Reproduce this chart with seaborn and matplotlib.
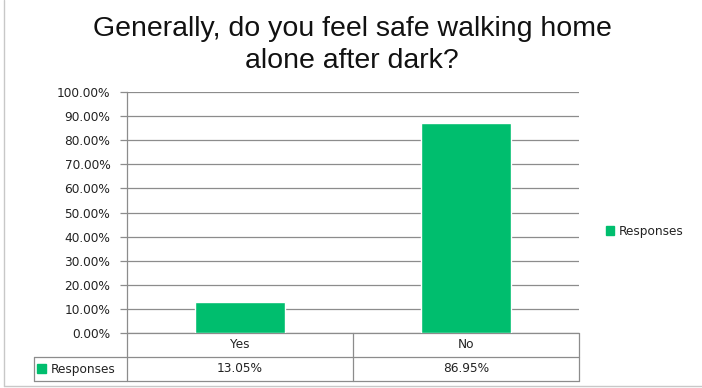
import matplotlib
matplotlib.use("Agg")
import matplotlib.pyplot as plt
import matplotlib.transforms as mtransforms
from matplotlib.patches import Patch, Rectangle
import seaborn as sns
import pandas as pd

categories = ["Yes", "No"]
values = [13.05, 86.95]
series_name = "Responses"
title = "Generally, do you feel safe walking home\nalone after dark?"
yticks = [0, 10, 20, 30, 40, 50, 60, 70, 80, 90, 100]

GREEN = "#00BE6E"
GRID = "#8c8c8c"
TXT = "#222222"
TICKFONT = "DejaVu Sans"
FS = 8.7

sns.set_theme(style="white")
plt.rcParams["font.family"] = ["DejaVu Sans"]

W, H = 702, 388
fig = plt.figure(figsize=(W / 100, H / 100), dpi=100)
fig.patch.set_facecolor("white")

# overlay in pixel coordinates
ov = fig.add_axes([0, 0, 1, 1], zorder=0)
ov.set_xlim(0, W)
ov.set_ylim(H, 0)
ov.axis("off")

L, R, T, B = 127, 579, 92, 333
ax = fig.add_axes([L / W, (H - B) / H, (R - L) / W, (B - T) / H], zorder=1)
ax.patch.set_alpha(0)

df = pd.DataFrame({"cat": categories, "val": values})
sns.barplot(data=df, x="cat", y="val", color=GREEN, width=0.4, ax=ax,
            saturation=1, order=categories)
ax.set_ylim(0, 100)
ax.set_xlim(-0.5, len(categories) - 0.5)
ax.set_yticks(yticks)
ax.set_yticklabels([f"{t:.2f}%" for t in yticks], fontsize=FS, color=TXT,
                   family=TICKFONT)
ax.set_xticks([])
ax.set_xlabel("")
ax.set_ylabel("")
ax.yaxis.grid(True, color=GRID, linewidth=0.9)
ax.set_axisbelow(True)
for s in ["top", "right", "bottom"]:
    ax.spines[s].set_visible(False)
ax.spines["left"].set_color(GRID)
ax.spines["left"].set_linewidth(0.9)
ax.tick_params(axis="y", which="both", left=True, length=5, width=0.9,
               color=GRID, pad=7)

# title
fig.text(352 / W, 1 - 45 / H, title, ha="center", va="center", fontsize=20.5,
         family="Liberation Sans", color="#111111", linespacing=1.3)

# data table below the axis
lc = dict(color=GRID, linewidth=0.9)
r0, r1, r2 = 333, 357, 381
tl = 34
ov.plot([L, R], [r0, r0], **lc)
ov.plot([tl, R], [r1, r1], **lc)
ov.plot([tl, R], [r2, r2], **lc)
ov.plot([tl, tl], [r1, r2], **lc)
blend = mtransforms.blended_transform_factory(ax.transData, ov.transData)
for i in range(len(categories) + 1):
    ov.plot([L + (R - L) * i / len(categories)] * 2, [r0, r2], **lc)
for i, (c, v) in enumerate(zip(categories, values)):
    fig.text(0, 0, c, transform=blend, ha="center", va="center",
             fontsize=FS, color=TXT, family=TICKFONT).set_position((i, (r0 + r1) / 2))
    fig.text(0, 0, f"{v:.2f}%", transform=blend, ha="center", va="center",
             fontsize=FS, color=TXT, family=TICKFONT).set_position((i, (r1 + r2) / 2))
ov.add_patch(Rectangle((37, 364), 9, 9, color=GREEN))
ov.text(51, (r1 + r2) / 2, series_name, ha="left", va="center", fontsize=FS,
        color=TXT, family=TICKFONT)

# legend
leg = fig.legend(handles=[Patch(color=GREEN, label=series_name)],
                 loc="center left", bbox_to_anchor=(595 / W, 1 - 231 / H),
                 frameon=False, handlelength=0.7, handleheight=0.7,
                 handletextpad=0.4, prop={"family": TICKFONT, "size": FS})
for t in leg.get_texts():
    t.set_color(TXT)

# outer border
ov.plot([4, 4], [0, 386], color="#c8c8c8", linewidth=1)
ov.plot([4, W], [386, 386], color="#c8c8c8", linewidth=1)

fig.savefig("out.png", dpi=100)
